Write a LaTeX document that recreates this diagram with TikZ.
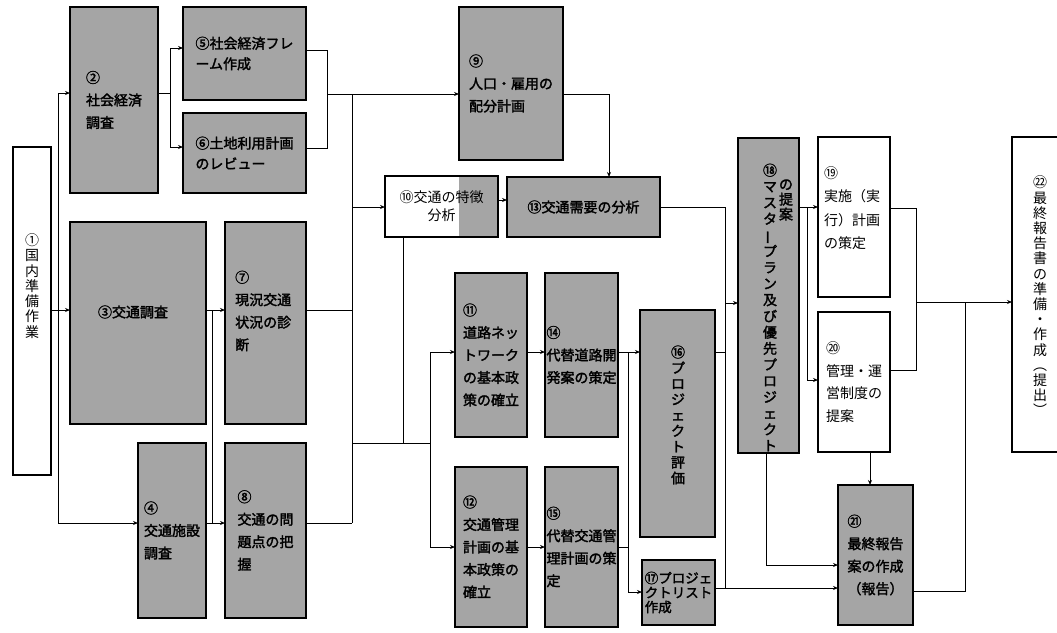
\documentclass[tikz,border=0pt]{standalone}
\usepackage{fontspec}
\usepackage{graphicx}
\setmainfont{Noto Sans CJK JP}
\newfontfamily\jpb{Noto Sans CJK JP}[FakeBold=2]
\usetikzlibrary{arrows.meta}
\definecolor{shadeg}{RGB}{165,165,165}
\newcommand{\vbar}{\rotatebox[origin=c]{90}{ー}}
\begin{document}
\begin{tikzpicture}[x=1pt,y=-1pt,
  sbox/.style={draw=black, line width=1.3pt, fill=shadeg, inner sep=0pt, outer sep=0pt, font=\jpb\fontsize{14}{22.5}\selectfont, align=left},
  wbox/.style={draw=black, line width=1.3pt, fill=white, inner sep=0pt, outer sep=0pt, font=\fontsize{14}{22.5}\selectfont, align=left},
  ln/.style={line width=1pt},
  arr/.style={line width=1pt, -{Stealth[length=5pt,width=4pt]}},
  vtxt/.style={inner sep=0pt, align=center},
  btxt/.style={inner sep=0pt, align=left, font=\jpb\fontsize{14}{22.5}\selectfont}
]
\useasboundingbox (0,0) rectangle (1057,632);
\fill[white] (0,0) rectangle (1057,632);
\clip (0,0) rectangle (1057,632);

% ---------- boxes ----------
\node[wbox, minimum width=38pt, minimum height=328pt] (n1) at (32,311) {};
\node[vtxt, font=\fontsize{14}{15.3}\selectfont] (t1) at (32,286) {①\\国\\内\\準\\備\\作\\業};

\node[sbox, minimum width=88pt, minimum height=186pt] (n2) at (114,100) {②\\社会経済\\調査};
\node[sbox, minimum width=136pt, minimum height=202pt] (n3) at (138,323) {};
\node[btxt] (t3) at (133,312) {③交通調査};
\node[sbox, minimum width=68pt, minimum height=175pt] (n4) at (172,530.5) {④\\交通施設\\調査};
\node[sbox, minimum width=123pt, minimum height=93pt, font=\jpb\fontsize{14}{20.5}\selectfont] (n5) at (244.5,53.5) {⑤社会経済フレ\\ーム作成};
\node[sbox, minimum width=123pt, minimum height=80pt, font=\jpb\fontsize{14}{20.5}\selectfont] (n6) at (244.5,153) {⑥土地利用計画\\のレビュー};
\node[sbox, minimum width=81pt, minimum height=202pt] (n7) at (265.5,323) {};
\node[btxt, anchor=west] (t7) at (235,311) {⑦\\現況交通\\状況の診\\断};
\node[sbox, minimum width=81pt, minimum height=175pt] (n8) at (265.5,530.5) {⑧\\交通の問\\題点の把\\握};
\node[sbox, minimum width=104pt, minimum height=153pt] (n9) at (511,83.5) {⑨\\人口・雇用の\\配分計画};

\fill[shadeg] (459,176) rectangle (498,237);
\node[wbox, fill=none, minimum width=113pt, minimum height=61pt, align=center, font=\fontsize{14}{18}\selectfont] (n10) at (441.5,206.5) {⑩交通の特徴\\分析};

\node[sbox, minimum width=153pt, minimum height=60pt] (n13) at (583.5,207) {⑬交通需要の分析};
\node[sbox, minimum width=72pt, minimum height=164pt] (n11) at (491,355) {⑪\\道路ネッ\\トワーク\\の基本政\\策の確立};
\node[sbox, minimum width=72pt, minimum height=160pt] (n12) at (491,547) {⑫\\交通管理\\計画の基\\本政策の\\確立};
\node[sbox, minimum width=73pt, minimum height=164pt] (n14) at (581.5,355) {⑭\\代替道路開\\発案の策定};
\node[sbox, minimum width=73pt, minimum height=160pt] (n15) at (581.5,547) {⑮\\代替交通管\\理計画の策\\定};

\node[sbox, minimum width=75pt, minimum height=227pt] (n16) at (677.5,423.5) {};
\node[vtxt, font=\jpb\fontsize{14}{15.75}\selectfont] (t16) at (678,415) {⑯\\プ\\ロ\\ジ\\ェ\\ク\\ト\\評\\価};

\node[sbox, minimum width=73pt, minimum height=65pt, font=\jpb\fontsize{13.5}{14.5}\selectfont] (n17) at (678.5,592.5) {⑰プロジェ\\クトリスト\\作成};

\node[sbox, minimum width=61pt, minimum height=315pt] (n18) at (768.5,295.5) {};
\node[vtxt, font=\jpb\fontsize{14}{16.2}\selectfont] (t18a) at (770,307.5) {⑱\\マ\\ス\\タ\\\vbar\\プ\\ラ\\ン\\及\\び\\優\\先\\プ\\ロ\\ジ\\ェ\\ク\\ト};
\node[vtxt, font=\jpb\fontsize{14}{15}\selectfont] (t18b) at (786,200) {の\\提\\案};

\node[wbox, minimum width=72pt, minimum height=160pt] (n19) at (854,217) {};
\node[inner sep=0pt, align=left, font=\fontsize{14}{23.5}\selectfont, anchor=west] (t19) at (824,208) {⑲\\実施（実\\行）計画\\の策定};
\node[wbox, minimum width=72pt, minimum height=140pt] (n20) at (854,382) {⑳\\管理・運\\営制度の\\提案};
\node[sbox, minimum width=75pt, minimum height=140pt] (n21) at (875.5,555) {㉑\\最終報告\\案の作成\\（報告）};

\node[wbox, minimum width=56pt, minimum height=315pt] (n22) at (1040,294.5) {};
\node[vtxt, font=\fontsize{14}{15.2}\selectfont] (t22) at (1040,296) {㉒\\最\\終\\報\\告\\書\\の\\準\\備\\・\\作\\成\\︵\\提\\出\\︶};

% ---------- connectors ----------
\coordinate (a1) at (58,93);
\coordinate (a2) at (58,310);
\coordinate (a3) at (58,523);
\draw[ln] (n1.east |- a2) -- (a2);
\draw[ln] (a1) -- (a3);
\draw[arr] (a1) -- (n2.west |- a1);
\draw[arr] (a2) -- (n3.west |- a2);
\draw[arr] (a3) -- (n4.west |- a3);

\coordinate (b0) at (170,93);
\coordinate (b1) at (170,48);
\coordinate (b2) at (170,147);
\draw[ln] (n2.east |- b0) -- (b0);
\draw[ln] (b1) -- (b2);
\draw[arr] (b1) -- (n5.west |- b1);
\draw[arr] (b2) -- (n6.west |- b2);

\coordinate (c1) at (327,50);
\coordinate (c2) at (327,148);
\coordinate (c0) at (327,94);
\draw[ln] (n5.east |- c1) -- (c1) -- (c2) -- (n6.east |- c2);
\draw[arr] (c0) -- (n9.west |- c0);

\coordinate (d0) at (352,94);
\coordinate (d1) at (352,207);
\coordinate (d2) at (352,310);
\coordinate (d3) at (352,443);
\coordinate (d4) at (352,523);
\draw[ln] (d0) -- (d4);
\draw[arr] (d1) -- (n10.west |- d1);
\draw[ln] (n7.east |- d2) -- (d2);
\draw[ln] (n8.east |- d4) -- (d4);

\coordinate (e1) at (212,310);
\coordinate (e2) at (212,523);
\draw[arr] (n3.east |- e1) -- (n7.west |- e1);
\draw[arr] (n4.east |- e2) -- (n8.west |- e2);
\draw[ln] (e1) -- (e2);

\coordinate (f0) at (430,443);
\coordinate (f1) at (430,352);
\coordinate (f2) at (430,547);
\coordinate (g0) at (403,443);
\draw[ln] (d3) -- (f0);
\draw[ln] (n10.south -| g0) -- (g0);
\draw[ln] (f1) -- (f2);
\draw[arr] (f1) -- (n11.west |- f1);
\draw[arr] (f2) -- (n12.west |- f2);
\draw[arr] (n11.east |- f1) -- (n14.west |- f1);
\draw[arr] (n12.east |- f2) -- (n15.west |- f2);

\coordinate (h1) at (628,352);
\coordinate (h2) at (628,547);
\coordinate (h3) at (628,592);
\draw[ln] (n14.east |- h1) -- (h1);
\draw[ln] (n15.east |- h2) -- (h2);
\draw[ln] (h1) -- (h3);
\draw[arr] (h1) -- (n16.west |- h1);
\draw[arr] (h3) -- (n17.west |- h3);

\coordinate (i1) at (609,94);
\draw[arr] (n9.east |- i1) -- (i1) -- (n13.north -| i1);

\coordinate (j0) at (500,200);
\draw[arr] (n10.east |- j0) -- (n13.west |- j0);

\coordinate (k1) at (725,207);
\coordinate (k2) at (725,303);
\coordinate (k3) at (725,352);
\coordinate (k4) at (725,588);
\draw[ln] (n13.east |- k1) -- (k1) -- (k4);
\draw[arr] (k2) -- (n18.west |- k2);
\draw[ln] (n16.east |- k3) -- (k3);
\draw[ln] (n17.east |- k4) -- (k4);
\draw[arr] (k4) -- (n21.west |- k4);

\coordinate (l1) at (807,207);
\coordinate (l2) at (807,380);
\draw[arr] (n18.east |- l1) -- (n19.west |- l1);
\draw[ln] (l1) -- (l2);
\draw[arr] (l2) -- (n20.west |- l2);

\coordinate (m1) at (766,565);
\draw[arr] (n18.south -| m1) -- (m1) -- (n21.west |- m1);

\coordinate (o1) at (870,470);
\draw[arr] (n20.south -| o1) -- (n21.north -| o1);

\coordinate (p1) at (916,208);
\coordinate (p2) at (916,370);
\coordinate (p0) at (916,302);
\coordinate (q0) at (965,302);
\coordinate (q1) at (965,591);
\draw[ln] (n19.east |- p1) -- (p1) -- (p2) -- (n20.east |- p2);
\draw[arr] (p0) -- (n22.west |- p0);
\draw[ln] (q0) -- (q1) -- (n21.east |- q1);
\end{tikzpicture}
\end{document}
